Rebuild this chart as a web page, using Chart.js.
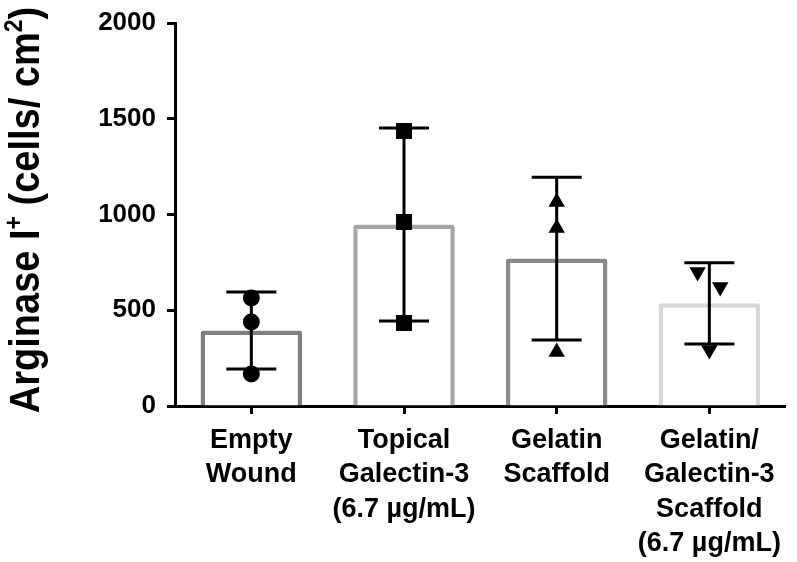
<!DOCTYPE html>
<html>
<head>
<meta charset="utf-8">
<script src="https://cdn.jsdelivr.net/npm/chart.js@4/dist/chart.umd.min.js"></script>
<style>
  body { margin: 0; background: #fff; }
  #wrap { width: 797px; height: 562px; }
</style>
</head>
<body>
<div id="wrap"><canvas id="arginaseChart" width="797" height="562"></canvas></div>
<script>
const groups = [
  ['Empty', 'Wound'],
  ['Topical', 'Galectin-3', '(6.7 µg/mL)'],
  ['Gelatin', 'Scaffold'],
  ['Gelatin/', 'Galectin-3', 'Scaffold', '(6.7 µg/mL)']
];
const means = [394, 948, 770, 536];
const sds = [201, 504, 425, 212];
const emptyWound = [564, 439, 167];
const topicalGal = [1436, 961, 433];
const gelatinScaffold = [1065, 929, 282];
const gelatinGalScaffold = [700, 621, 292];
const jitter4 = [-0.077, 0.071, 0];
const yTicks = [0, 500, 1000, 1500, 2000];
const barColors = ['#7f7f7f', '#a6a6a8', '#8a8a8a', '#d6d6d6'];

const FONT = '"Liberation Sans", Arial, sans-serif';

function pts(values, idx, offsets) {
  return values.map((v, k) => ({ x: idx + (offsets ? offsets[k] : 0), y: v }));
}

const errorBars = {
  id: 'errorBars',
  afterDatasetsDraw(chart) {
    const ctx = chart.ctx;
    const xs = chart.scales.x, ys = chart.scales.y;
    ctx.save();
    ctx.strokeStyle = '#000';
    ctx.lineWidth = 3;
    means.forEach((m, i) => {
      const x = xs.getPixelForValue(i);
      const top = ys.getPixelForValue(m + sds[i]);
      const bot = ys.getPixelForValue(m - sds[i]);
      ctx.beginPath();
      ctx.moveTo(x, top); ctx.lineTo(x, bot);
      ctx.moveTo(x - 25, top); ctx.lineTo(x + 25, top);
      ctx.moveTo(x - 25, bot); ctx.lineTo(x + 25, bot);
      ctx.stroke();
    });
    ctx.restore();
  }
};

// rotated y title with superscripts
const yTitle = {
  id: 'yTitle',
  afterDraw(chart) {
    const ctx = chart.ctx;
    const parts = [
      ['Arginase I', false], ['+', true], [' (cells/ cm', false], ['2', true], [')', false]
    ];
    const big = 'bold 38px ' + FONT, small = 'bold 23px ' + FONT;
    let total = 0;
    parts.forEach(p => { ctx.font = p[1] ? small : big; total += ctx.measureText(p[0]).width; });
    ctx.save();
    ctx.translate(39, 210);
    ctx.rotate(-Math.PI / 2);
    ctx.scale(1, 1.12);
    ctx.fillStyle = '#000';
    ctx.textBaseline = 'alphabetic';
    let x = -total / 2;
    parts.forEach(p => {
      ctx.font = p[1] ? small : big;
      ctx.fillText(p[0], x, p[1] ? -15 : 0);
      x += ctx.measureText(p[0]).width;
    });
    ctx.restore();
  }
};

new Chart(document.getElementById('arginaseChart').getContext('2d'), {
  type: 'bar',
  data: {
    labels: groups,
    datasets: [
      {
        data: means,
        backgroundColor: '#ffffff',
        borderColor: barColors,
        borderWidth: 4.5,
        borderRadius: 3,
        borderSkipped: 'bottom',
        grouped: false,
        categoryPercentage: 1,
        barPercentage: 0.665,
        order: 2
      },
      { type: 'scatter', xAxisID: 'xp', data: pts(emptyWound, 0), pointStyle: 'circle', pointRadius: 8.5, order: 1 },
      { type: 'scatter', xAxisID: 'xp', data: pts(topicalGal, 1), pointStyle: 'rect', pointRadius: 11.3, order: 1 },
      { type: 'scatter', xAxisID: 'xp', data: pts(gelatinScaffold, 2), pointStyle: 'triangle', pointRadius: 9.5, order: 1 },
      { type: 'scatter', xAxisID: 'xp', data: pts(gelatinGalScaffold, 3, jitter4), pointStyle: 'triangle', pointRotation: 180, pointRadius: 9.5, order: 1 }
    ].map(d => d.type === 'scatter'
      ? Object.assign(d, { pointBackgroundColor: '#000', pointBorderColor: '#000', pointBorderWidth: 0, showLine: false })
      : d)
  },
  options: {
    responsive: false,
    animation: false,
    layout: { padding: { top: 23, right: 4, left: 0, bottom: 0 } },
    plugins: { legend: { display: false }, tooltip: { enabled: false } },
    scales: {
      x: {
        offset: true,
        border: { display: true, color: '#000', width: 3 },
        grid: { display: true, drawOnChartArea: false, drawTicks: true, tickLength: 8, tickWidth: 3, tickColor: '#000', offset: false },
        ticks: {
          color: '#000', maxRotation: 0, autoSkip: false, padding: 10,
          font: { family: FONT, size: 27, weight: 'bold', lineHeight: 1.26 }
        },
        afterFit(scale) { scale.height = 156; }
      },
      xp: { type: 'linear', display: false, offset: false, min: -0.5, max: 3.5 },
      y: {
        min: 0, max: 2000,
        afterBuildTicks(scale) { scale.ticks = yTicks.map(v => ({ value: v })); },
        border: { display: true, color: '#000', width: 3 },
        grid: { display: true, drawOnChartArea: false, drawTicks: true, tickLength: 8, tickWidth: 3, tickColor: '#000' },
        ticks: {
          color: '#000', padding: 11,
          callback: v => String(v),
          font: { family: FONT, size: 26, weight: 'bold' }
        },
        afterFit(scale) { scale.width = 175; scale.paddingTop = 0; }
      }
    }
  },
  plugins: [errorBars, yTitle]
});
</script>
</body>
</html>
